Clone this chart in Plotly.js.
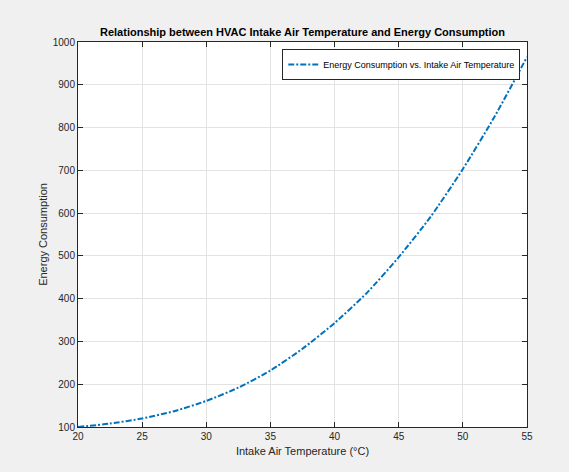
<!DOCTYPE html>
<html>
<head>
<meta charset="utf-8">
<script src="https://cdn.plot.ly/plotly-3.0.1.min.js"></script>
<style>html,body{margin:0;padding:0;background:#f0f0f0;}#chart{width:569px;height:472px;}</style>
</head>
<body>
<div id="chart"></div>
<script>
const temperature = [20, 22.5, 25, 27.5, 30, 32.5, 35, 37.5, 40, 42.5, 45, 47.5, 50, 52.5, 55];
const energy = [100, 108, 120, 137, 161, 192, 232, 283, 343, 413, 497, 592, 703, 827, 965];
const xTicks = [20, 25, 30, 35, 40, 45, 50, 55];
const yTicks = [100, 200, 300, 400, 500, 600, 700, 800, 900, 1000];
const seriesName = 'Energy Consumption vs. Intake Air Temperature';

const font = 'Liberation Sans, Arial, Helvetica, sans-serif';
const trace = {
  x: temperature, y: energy, type: 'scatter', mode: 'lines', name: seriesName,
  line: {color: '#0072BD', width: 2, dash: '6px,2px,2px,2px', shape: 'spline', smoothing: 0.6}
};
const axisCommon = {
  showline: true, linecolor: '#262626', linewidth: 1, mirror: 'allticks',
  ticks: 'inside', ticklen: 5, tickcolor: '#262626', tickwidth: 1,
  showgrid: true, gridcolor: '#e3e3e3', gridwidth: 1, zeroline: false,
  tickfont: {family: font, size: 10, color: '#262626'}
};
const layout = {
  width: 569, height: 472,
  paper_bgcolor: '#f0f0f0', plot_bgcolor: '#ffffff',
  margin: {l: 78, r: 42, t: 42, b: 45},
  showlegend: true,
  title: {text: '<b>Relationship between HVAC Intake Air Temperature and Energy Consumption</b>',
    font: {family: font, size: 11, color: '#000000'}, xref: 'paper', x: 0.5, xanchor: 'center',
    yref: 'container', y: 0.932, yanchor: 'middle'},
  xaxis: Object.assign({}, axisCommon, {
    range: [20, 55], tickvals: xTicks, ticktext: xTicks.map(String),
    title: {text: 'Intake Air Temperature (°C)', font: {family: font, size: 11, color: '#262626'}, standoff: 6}
  }),
  yaxis: Object.assign({}, axisCommon, {
    range: [100, 1000], tickvals: yTicks, ticktext: yTicks.map(String),
    title: {text: 'Energy Consumption', font: {family: font, size: 11, color: '#262626'}, standoff: 2}
  }),
  legend: {x: 0.985, xanchor: 'right', y: 0.982, yanchor: 'top', bgcolor: '#ffffff',
    bordercolor: '#262626', borderwidth: 1, font: {family: font, size: 9, color: '#000000'},
    itemwidth: 30, tracegroupgap: 0}
};
Plotly.newPlot('chart', [trace], layout, {displayModeBar: false, staticPlot: true});
</script>
</body>
</html>
